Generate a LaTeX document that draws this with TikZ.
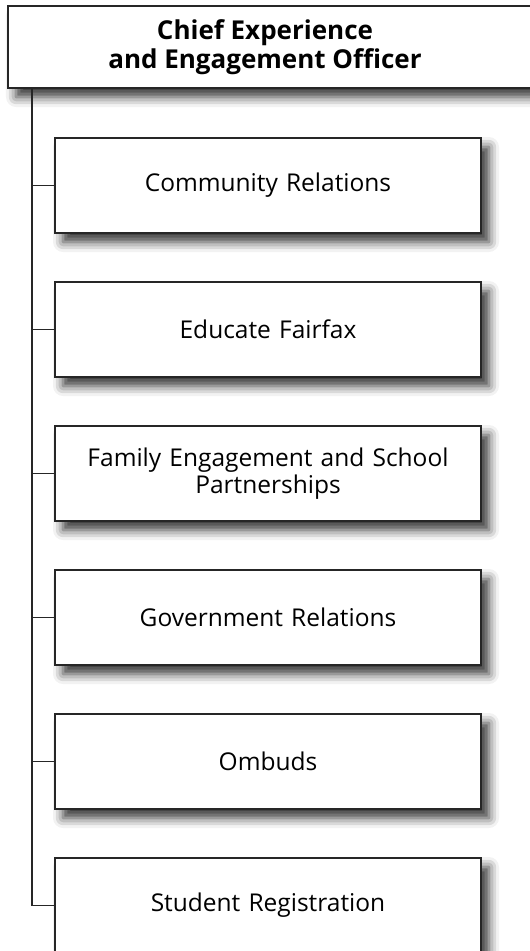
\documentclass[tikz,border=0pt]{standalone}
\usepackage{fontspec}
\setmainfont{Open Sans}
\usetikzlibrary{shadows.blur}
\begin{document}
\begin{tikzpicture}[x=1pt,y=-1pt,
  boxshadow/.style={blur shadow={shadow xshift=8pt, shadow yshift=-9pt, shadow blur radius=10pt, shadow opacity=80}},
  unitbox/.style={draw=black!85, line width=1.1pt, fill=white, boxshadow,
    minimum width=426pt, minimum height=95pt, inner sep=0pt,
    align=center, text width=415pt, font=\fontsize{24.5}{27.5}\selectfont},
  topbox/.style={draw=black!85, line width=1.1pt, fill=white, boxshadow,
    minimum width=540pt, minimum height=82pt, inner sep=0pt},
  link/.style={draw=black!85, line width=1.1pt}]
\useasboundingbox (0,0) rectangle (530,951);
\node[topbox] (top) at (278,47) {};
\node[font=\bfseries\fontsize{26}{29}\selectfont, align=center] (title) at (265,47) {Chief Experience\\and Engagement Officer};
\node[unitbox] (c1) at (268,185.5) {Community Relations};
\node[unitbox] (c2) at (268,329.5) {Educate Fairfax};
\node[unitbox] (c3) at (268,473.5) {Family Engagement and School\\Partnerships};
\node[unitbox] (c4) at (268,617.5) {Government Relations};
\node[unitbox] (c5) at (268,761.5) {Ombuds};
\node[unitbox] (c6) at (268,905.5) {Student Registration};
\coordinate (trunk) at (32,88);
\draw[link] (trunk) |- (c6.west);
\foreach \n in {c1,c2,c3,c4,c5}{
  \draw[link] (trunk |- \n.west) -- (\n.west);
}
\end{tikzpicture}
\end{document}
